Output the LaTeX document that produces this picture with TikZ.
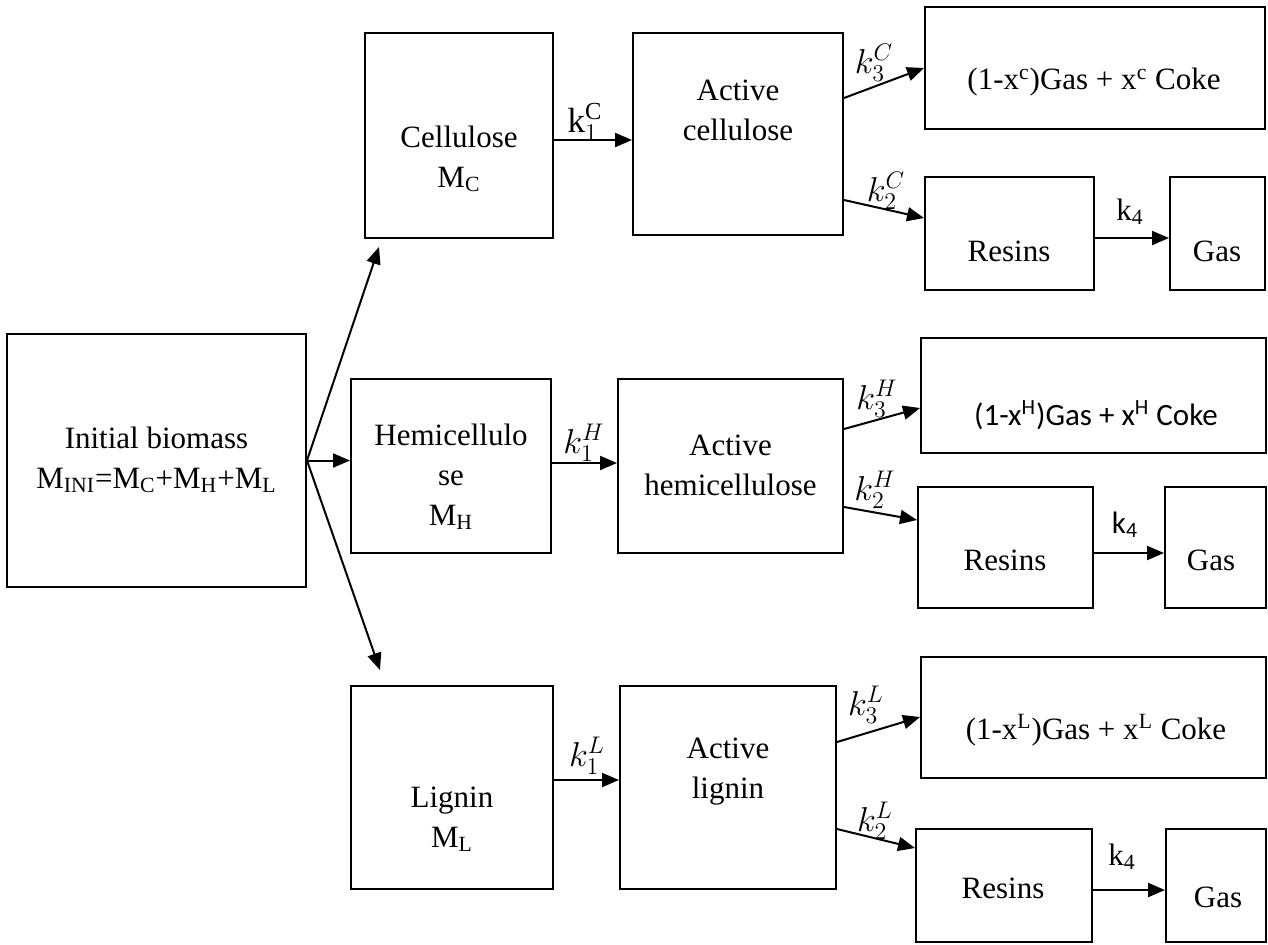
\documentclass[tikz,border=0pt]{standalone}
\usepackage{fontspec}
\setmainfont{Liberation Serif}
\newfontfamily\calibri{Carlito}
\usetikzlibrary{arrows.meta}
\tikzset{
  box/.style={
    rectangle,
    draw=black,
    line width=1pt,
    inner sep=0pt
  },
  txt/.style={
    align=center,
    inner sep=0pt,
    font=\fontsize{15.5}{20}\selectfont
  },
  sanstxt/.style={
    txt,
    font=\calibri\fontsize{15.5}{20}\selectfont
  },
  rate/.style={
    inner sep=0pt,
    font=\fontsize{17.5}{20}\selectfont
  },
  arrow/.style={
    -{Triangle[length=8.5pt,width=7pt]},
    line width=1pt,
    draw=black
  }
}

\begin{document}
\begin{tikzpicture}[x=0.5pt, y=-0.5pt]
  \useasboundingbox (0,0) rectangle (1268,944);

  % boxes
  \node[box, minimum width=149.5pt, minimum height=126.5pt] (init) at (156.5,460.5) {};
  \node[box, minimum width=94pt, minimum height=102.5pt] (cell) at (459,135.5) {};
  \node[box, minimum width=105pt, minimum height=101pt] (actC) at (738,134) {};
  \node[box, minimum width=170pt, minimum height=61pt] (prodC) at (1095,68) {};
  \node[box, minimum width=84.5pt, minimum height=56.5pt] (resC) at (1009.5,233.5) {};
  \node[box, minimum width=47.5pt, minimum height=56.5pt] (gasC) at (1217.5,233.5) {};
  \node[box, minimum width=100pt, minimum height=87pt] (hemi) at (451,466) {};
  \node[box, minimum width=112.5pt, minimum height=87pt] (actH) at (730.5,466) {};
  \node[box, minimum width=172.5pt, minimum height=57.5pt] (prodH) at (1093.5,395.5) {};
  \node[box, minimum width=87.5pt, minimum height=60.5pt] (resH) at (1005.5,547.5) {};
  \node[box, minimum width=50.5pt, minimum height=60.5pt] (gasH) at (1215.5,547.5) {};
  \node[box, minimum width=101pt, minimum height=101.5pt] (lig) at (452,787.5) {};
  \node[box, minimum width=108pt, minimum height=101.5pt] (actL) at (728,787.5) {};
  \node[box, minimum width=172.5pt, minimum height=60.5pt] (prodL) at (1093.5,717.5) {};
  \node[box, minimum width=88pt, minimum height=56.5pt] (resL) at (1004,885.5) {};
  \node[box, minimum width=50pt, minimum height=56.5pt] (gasL) at (1216,885.5) {};

  % texts
  \node[txt] (initT) at (156.5,460) {Initial biomass\\M\textsubscript{INI}=M\textsubscript{C}+M\textsubscript{H}+M\textsubscript{L}};
  \node[txt] (cellT) at (459,159) {Cellulose\\M\textsubscript{C}};
  \node[txt] (actCT) at (738,110) {Active\\cellulose};
  \node[txt] (prodCT) at (1094,82) {(1-x\textsuperscript{c})Gas + x\textsuperscript{c} Coke};
  \node[txt] (resCT) at (1009,251) {Resins};
  \node[txt] (gasCT) at (1217,251) {Gas};
  \node[txt] (hemiT) at (451,477) {Hemicellulo\\se\\M\textsubscript{H}};
  \node[txt] (actHT) at (730.5,465) {Active\\hemicellulose};
  \node[sanstxt] (prodHT) at (1096,415) {(1-x\textsuperscript{H})Gas + x\textsuperscript{H} Coke};
  \node[txt] (resHT) at (1005,560) {Resins};
  \node[txt] (gasHT) at (1211,560) {Gas};
  \node[txt] (ligT) at (452,819) {Lignin\\M\textsubscript{L}};
  \node[txt] (actLT) at (728,772) {Active\\lignin};
  \node[txt] (prodLT) at (1096,730) {(1-x\textsuperscript{L})Gas + x\textsuperscript{L} Coke};
  \node[txt] (resLT) at (1003,888) {Resins};
  \node[txt] (gasLT) at (1218,897) {Gas};

  % rate labels
  \node[rate] (k1C) at (585,122) {$\mathrm{k}_1^{\mathrm{C}}$};
  \node[rate] (k3C) at (874,63) {$k_3^C$};
  \node[rate] (k2C) at (886,191) {$k_2^C$};
  \node[txt] (k4C) at (1130,212) {k\textsubscript{4}};
  \node[rate] (k1H) at (584,443) {$k_1^H$};
  \node[rate] (k3H) at (877,399) {$k_3^H$};
  \node[rate] (k2H) at (875,490) {$k_2^H$};
  \node[sanstxt] (k4H) at (1125,525) {k\textsubscript{4}};
  \node[rate] (k1L) at (587,756) {$k_1^L$};
  \node[rate] (k3L) at (866,705) {$k_3^L$};
  \node[rate] (k2L) at (875,821) {$k_2^L$};
  \node[txt] (k4L) at (1122,857) {k\textsubscript{4}};

  % fork from the initial biomass
  \coordinate (tipC) at (379,247);
  \coordinate (tipL) at (380,670);
  \draw[arrow] (init.east) -- (tipC);
  \draw[arrow] (init.east) -- (init.east -| hemi.west);
  \draw[arrow] (init.east) -- (tipL);

  % cellulose
  \draw[arrow] (cell.east |- 0,140) -- (actC.west |- 0,140);
  \draw[arrow] (actC.east |- 0,98) -- (prodC.west |- 0,68);
  \draw[arrow] (actC.east |- 0,200) -- (resC.west |- 0,218);
  \draw[arrow] (resC.east |- 0,238) -- (gasC.west |- 0,238);

  % hemicellulose
  \draw[arrow] (hemi.east |- 0,463) -- (actH.west |- 0,463);
  \draw[arrow] (actH.east |- 0,429) -- (prodH.west |- 0,408);
  \draw[arrow] (actH.east |- 0,507) -- (resH.west |- 0,520);
  \draw[arrow] (resH.east |- 0,553) -- (gasH.west |- 0,553);

  % lignin
  \draw[arrow] (lig.east |- 0,780) -- (actL.west |- 0,780);
  \draw[arrow] (actL.east |- 0,742) -- (prodL.west |- 0,717);
  \draw[arrow] (actL.east |- 0,829) -- (resL.west |- 0,848);
  \draw[arrow] (resL.east |- 0,890) -- (gasL.west |- 0,890);
\end{tikzpicture}
\end{document}
